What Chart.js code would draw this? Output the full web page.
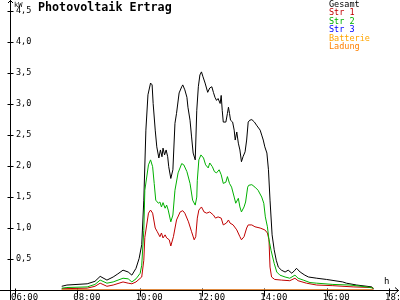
<!DOCTYPE html>
<html><head><meta charset="utf-8">
<script src="https://cdn.jsdelivr.net/npm/chart.js@4"></script>
<style>html,body{margin:0;padding:0;background:#fff}#wrap{width:400px;height:300px}</style>
</head><body><div id="wrap"><canvas id="c" width="400" height="300"></canvas></div>
<script>
const chartTitle = "Photovoltaik Ertrag";
const yUnit = "kW";
const xUnit = "h";
const xTickHours = [6, 8, 10, 12, 14, 16, 18];
const yTickValues = [0.5, 1.0, 1.5, 2.0, 2.5, 3.0, 3.5, 4.0, 4.5];
const seriesNames = ["Gesamt", "Str 1", "Str 2", "Str 3", "Batterie", "Ladung"];
const seriesColors = ["#000000", "#c00000", "#00b000", "#0000ff", "#ffa500", "#ff8000"];

const gesamtTimes = ["07:30","07:40","08:19","08:34","08:44","08:57","09:09","09:18","09:28","09:38","09:45","09:53","09:59","10:04","10:08","10:12","10:16","10:21","10:24","10:26","10:30","10:33","10:37","10:40","10:43","10:45","10:48","10:51","10:54","10:56","11:00","11:04","11:08","11:11","11:16","11:21","11:23","11:27","11:31","11:33","11:37","11:40","11:43","11:47","11:50","11:53","11:56","11:59","12:02","12:06","12:11","12:15","12:19","12:22","12:25","12:28","12:31","12:35","12:37","12:39","12:41","12:46","12:49","12:51","12:53","12:55","12:59","13:02","13:04","13:07","13:10","13:13","13:16","13:19","13:23","13:26","13:29","13:32","13:36","13:41","13:45","13:52","13:55","13:58","14:01","14:05","14:08","14:11","14:15","14:19","14:23","14:27","14:33","14:40","14:46","14:53","14:59","15:02","15:09","15:18","15:25","15:41","16:00","16:31","16:38","16:58","17:27","17:30"];
const gesamtValues = [0.06,0.08,0.10,0.14,0.22,0.16,0.21,0.26,0.32,0.29,0.24,0.35,0.51,0.73,1.45,2.58,3.15,3.34,3.31,3.01,2.58,2.31,2.13,2.26,2.15,2.29,2.18,2.26,2.15,1.99,1.80,1.94,2.69,2.85,3.18,3.28,3.31,3.23,3.11,2.95,2.74,2.47,2.21,2.10,2.90,3.28,3.47,3.52,3.44,3.34,3.19,3.26,3.28,3.19,3.11,3.06,3.09,3.01,3.14,2.90,2.71,2.71,2.85,2.95,2.85,2.74,2.71,2.58,2.42,2.55,2.37,2.26,2.07,2.15,2.23,2.42,2.71,2.74,2.75,2.71,2.66,2.58,2.50,2.42,2.31,2.21,1.94,1.45,0.89,0.65,0.48,0.37,0.32,0.29,0.32,0.27,0.32,0.35,0.29,0.24,0.21,0.19,0.17,0.13,0.11,0.08,0.05,0.02];

const str1Times = ["07:30","08:19","08:34","08:44","08:57","09:09","09:28","09:38","09:45","09:53","10:04","10:08","10:10","10:17","10:21","10:25","10:30","10:34","10:39","10:42","10:45","10:49","10:52","10:57","11:00","11:05","11:11","11:18","11:23","11:27","11:34","11:40","11:45","11:48","11:51","11:54","11:59","12:04","12:09","12:15","12:22","12:26","12:31","12:37","12:41","12:47","12:51","12:54","13:00","13:07","13:13","13:16","13:21","13:26","13:29","13:36","13:42","13:52","14:01","14:06","14:09","14:11","14:14","14:20","14:33","14:49","14:59","15:05","15:21","15:41","16:12","16:51","17:27","17:30"];
const str1Values = [0.02,0.03,0.06,0.11,0.06,0.08,0.13,0.11,0.10,0.13,0.21,0.48,0.85,1.24,1.29,1.24,1.00,0.94,0.86,0.92,0.84,0.89,0.84,0.81,0.71,0.86,1.13,1.26,1.28,1.24,1.10,0.94,0.81,0.86,1.16,1.29,1.34,1.26,1.24,1.26,1.21,1.16,1.18,1.16,1.05,1.08,1.13,1.08,1.05,0.97,0.86,0.81,0.86,1.00,1.05,1.05,1.02,1.00,0.97,0.92,0.81,0.37,0.21,0.17,0.16,0.15,0.19,0.15,0.11,0.08,0.07,0.05,0.04,0.02];

const str2Times = ["07:30","07:40","08:19","08:34","08:44","08:57","09:09","09:28","09:38","09:45","09:53","10:01","10:04","10:08","10:10","10:17","10:21","10:25","10:28","10:31","10:36","10:39","10:42","10:45","10:49","10:52","10:55","11:00","11:04","11:08","11:14","11:21","11:25","11:31","11:37","11:42","11:47","11:50","11:51","11:54","11:58","12:03","12:07","12:12","12:15","12:20","12:24","12:28","12:33","12:37","12:41","12:46","12:49","12:53","12:57","13:02","13:05","13:10","13:13","13:16","13:21","13:24","13:28","13:30","13:36","13:42","13:48","13:55","13:59","14:02","14:06","14:09","14:13","14:19","14:24","14:30","14:40","14:49","14:59","15:05","15:15","15:28","15:41","16:12","16:45","17:17","17:30"];
const str2Values = [0.03,0.04,0.05,0.09,0.16,0.11,0.13,0.19,0.18,0.13,0.18,0.27,0.40,0.96,1.61,2.02,2.10,1.99,1.72,1.45,1.40,1.42,1.34,1.41,1.32,1.37,1.29,1.10,1.21,1.61,1.89,2.04,2.02,1.91,1.72,1.45,1.37,1.50,1.77,2.10,2.18,2.13,2.02,1.97,2.05,1.99,1.91,1.89,1.94,1.86,1.72,1.74,1.83,1.72,1.66,1.50,1.40,1.48,1.34,1.26,1.34,1.42,1.66,1.69,1.70,1.66,1.61,1.50,1.40,1.18,1.02,0.81,0.64,0.43,0.29,0.24,0.21,0.19,0.24,0.19,0.16,0.12,0.11,0.09,0.08,0.05,0.03];

const str3Times = ["07:30","17:30"];
const str3Values = [0, 0];
const batterieTimes = ["07:30","17:30"];
const batterieValues = [0, 0];
const ladungTimes = ["07:30","17:30"];
const ladungValues = [0, 0];

function toHours(t){ const p = t.split(":"); return +p[0] + (+p[1]) / 60; }
function pts(times, vals){ return times.map((t, i) => ({x: toHours(t), y: vals[i]})); }

const seriesData = [
  pts(gesamtTimes, gesamtValues),
  pts(str1Times, str1Values),
  pts(str2Times, str2Values),
  pts(str3Times, str3Values),
  pts(batterieTimes, batterieValues),
  pts(ladungTimes, ladungValues)
];
const drawOrder = [5, 4, 3, 2, 1, 0];

const MONO = '"DejaVu Sans Mono", monospace';

const decor = {
  id: 'decor',
  beforeDatasetsDraw(chart){
    const ctx = chart.ctx, xs = chart.scales.x, ys = chart.scales.y;
    const ax = Math.round(xs.left) + 0.5;
    const ay = Math.round(ys.getPixelForValue(0)) + 0.5;
    ctx.save();
    ctx.strokeStyle = '#000'; ctx.lineWidth = 1;
    ctx.beginPath();
    ctx.moveTo(ax, 300); ctx.lineTo(ax, 0);
    ctx.moveTo(0, ay); ctx.lineTo(399, ay);
    ctx.moveTo(ax - 2.5, 3); ctx.lineTo(ax, 0.5); ctx.lineTo(ax + 2.5, 3);
    ctx.moveTo(395, ay - 3); ctx.lineTo(398.5, ay); ctx.lineTo(395, ay + 3);
    yTickValues.forEach(v => { const p = Math.round(ys.getPixelForValue(v)) + 0.5; ctx.moveTo(ax - 3, p); ctx.lineTo(ax + 3, p); });
    xTickHours.forEach(h => { const p = Math.round(xs.getPixelForValue(h)) + 0.5; ctx.moveTo(p, ay - 2); ctx.lineTo(p, ay + 6); });
    ctx.stroke();
    ctx.restore();
  },
  afterDraw(chart){
    const ctx = chart.ctx;
    ctx.save();
    ctx.fillStyle = '#000';
    ctx.textBaseline = 'alphabetic';
    ctx.textAlign = 'left';
    ctx.font = 'bold 11.7px ' + MONO;
    ctx.fillText(chartTitle, 38, 11);
    ctx.font = '7px ' + MONO;
    ctx.fillText(yUnit, 14, 7);
    ctx.font = '9px ' + MONO;
    ctx.fillText(xUnit, 384, 284);
    ctx.font = '8.5px ' + MONO;
    seriesNames.forEach((n, i) => {
      ctx.fillStyle = seriesColors[i];
      ctx.fillText(n, 329, 7 + i * 8.4);
    });
    ctx.restore();
  }
};

new Chart(document.getElementById('c'), {
  type: 'line',
  data: {
    datasets: seriesNames.map((n, i) => ({
      label: n,
      data: seriesData[i],
      borderColor: seriesColors[i],
      backgroundColor: seriesColors[i],
      borderWidth: 1,
      pointRadius: 0,
      tension: 0,
      fill: false,
      order: drawOrder[i]
    }))
  },
  options: {
    responsive: false,
    animation: false,
    devicePixelRatio: 1,
    layout: { padding: { left: 0, right: 2, top: 0, bottom: 0 } },
    plugins: { legend: { display: false }, title: { display: false }, tooltip: { enabled: false } },
    scales: {
      x: {
        type: 'linear', min: 5.84, max: 18.29,
        grid: { display: false, drawTicks: false }, border: { display: false },
        afterBuildTicks: s => { s.ticks = xTickHours.map(v => ({ value: v })); },
        afterFit: s => { s.height = 10; s.paddingLeft = 0; s.paddingRight = 0; },
        ticks: {
          align: 'start', padding: 2, labelOffset: -4, maxRotation: 0, autoSkip: false,
          color: '#000', font: { family: MONO, size: 9 },
          callback: v => String(v).padStart(2, '0') + ':00'
        }
      },
      y: {
        min: 0, max: 4.68,
        grid: { display: false, drawTicks: false }, border: { display: false },
        afterBuildTicks: s => { s.ticks = yTickValues.map(v => ({ value: v })); },
        afterFit: s => { s.width = 10; s.paddingTop = 0; s.paddingBottom = 0; },
        ticks: {
          mirror: true, padding: 6,
          color: '#000', font: { family: MONO, size: 8.5 },
          callback: v => v.toFixed(1).replace('.', ',')
        }
      }
    }
  },
  plugins: [decor]
});
</script>
</body></html>
